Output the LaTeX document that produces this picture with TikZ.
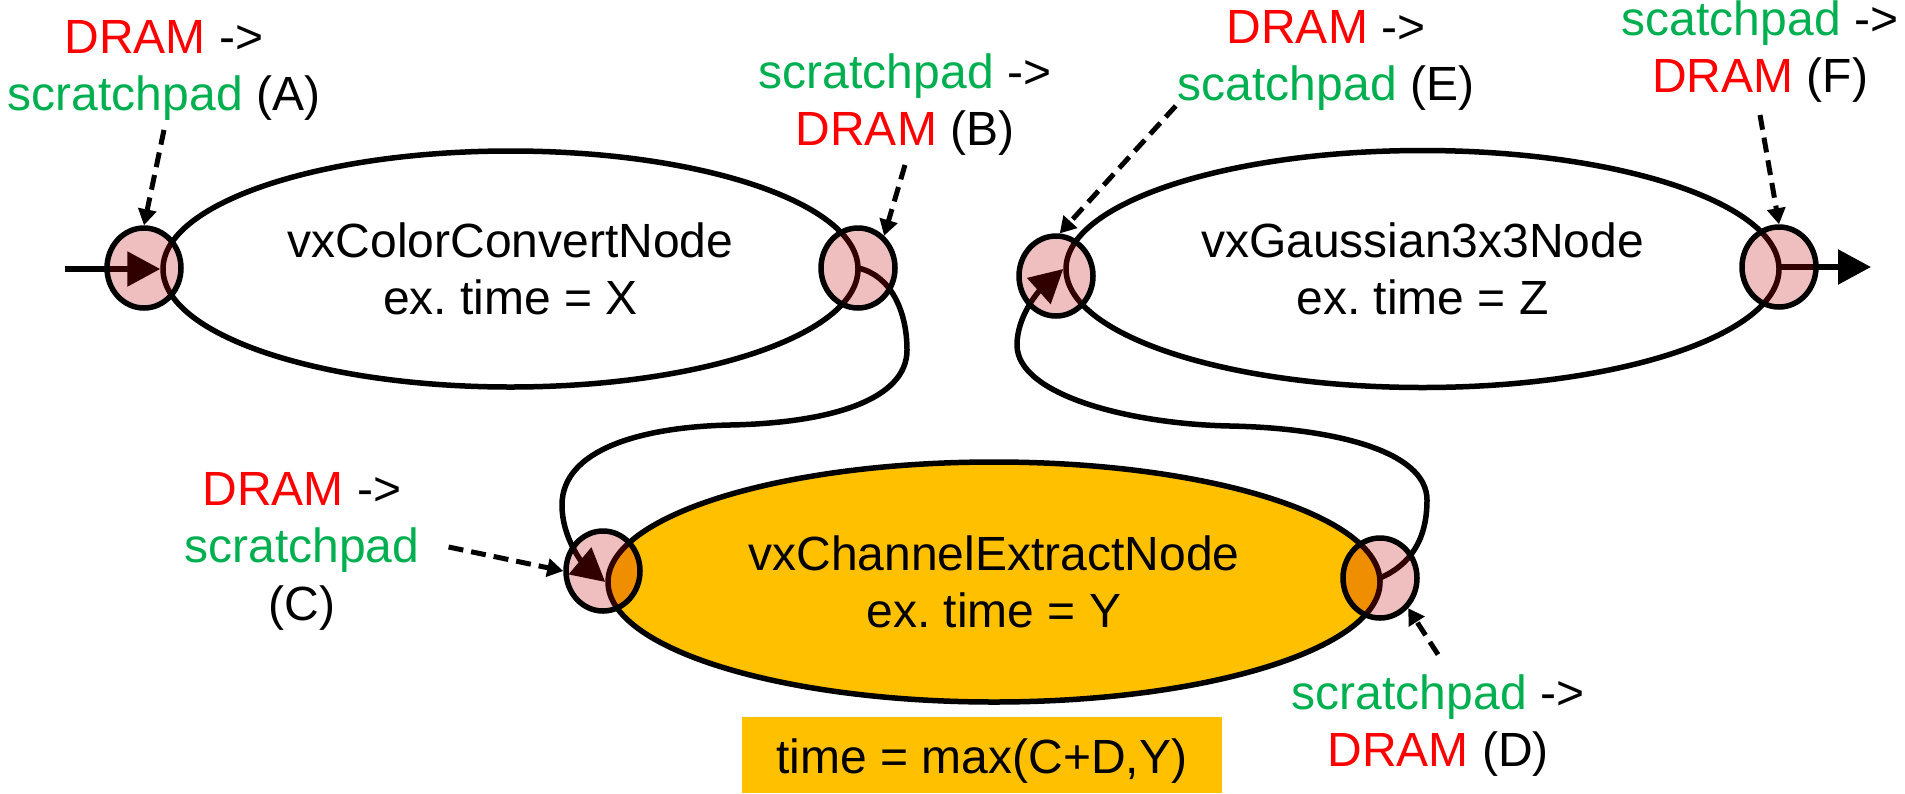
\documentclass[tikz,border=0pt]{standalone}
\usepackage{fontspec}
\setmainfont{Liberation Sans}
\usetikzlibrary{shapes.geometric,arrows.meta}
\definecolor{dramred}{HTML}{FF0000}
\definecolor{padgreen}{HTML}{00B050}
\definecolor{gold}{HTML}{FFC000}
\definecolor{portred}{HTML}{C00000}
\newcommand\lst{\rule[-17.25pt]{0pt}{57.5pt}}
\newcommand\est{\rule[-12pt]{0pt}{57.5pt}}
\newcommand\dram{\textcolor{dramred}{DRAM}}
\newcommand\spad[1]{\textcolor{padgreen}{#1}}
\pgfdeclarelayer{bg}\pgfdeclarelayer{mid}\pgfsetlayers{bg,mid,main}
\frenchspacing
\begin{document}
\begin{tikzpicture}[x=1pt,y=-1pt,
  every node/.style={font=\fontsize{48}{57.5}\selectfont},
  kernel/.style={ellipse, draw, line width=5.5pt, inner sep=0pt, align=center},
  port/.style={ellipse, draw, line width=5.5pt, fill=portred, fill opacity=0.25, draw opacity=1, minimum width=74pt, minimum height=80pt, inner sep=0pt},
  lab/.style={align=center, inner sep=2pt},
  flow/.style={line width=5.5pt, -{Triangle[length=33pt,width=34pt]}},
  feed/.style={line width=5pt, dash pattern=on 15pt off 8pt, -{Triangle[length=16pt,width=18pt]}},
]
\useasboundingbox (0,0) rectangle (1905,793);

\begin{pgfonlayer}{bg}
\fill[white] (0,0) rectangle (1905,793);
\node[kernel, fill=white, minimum width=695pt, minimum height=236pt] (n1) at (510.5,269) {\est vxColorConvertNode\\\est ex. time = X};
\node[kernel, fill=white, minimum width=713pt, minimum height=237pt] (n2) at (1422.5,269) {\est vxGaussian3x3Node\\\est ex. time = Z};
\node[kernel, fill=gold, minimum width=772pt, minimum height=240pt] (n3) at (994,582) {\est vxChannelExtractNode\\\est ex. time = Y};
\node[fill=gold, minimum width=480pt, minimum height=76pt, text height=36pt, text depth=0pt, inner sep=0pt] (tb) at (982,755) {time = max(C+D,Y)};
\end{pgfonlayer}

% ports
\node[port] (pA) at (144,268) {};
\node[port] (pB) at (858,268) {};
\node[port] (pC) at (603,571) {};
\node[port] (pD) at (1380,578) {};
\node[port] (pE) at (1056,276) {};
\node[port] (pF) at (1779,267) {};

\coordinate (in) at (65,269);
\coordinate (out) at (1871,267);

\begin{pgfonlayer}{mid}
\draw[flow] (in) -- (n1.west);
\draw[flow] (pB.center) .. controls (890,275) and (907,310) .. (907,350)
  .. controls (907,400) and (830,423) .. (730,425)
  .. controls (640,427) and (562,450) .. (562,505)
  .. controls (562,540) and (585,565) .. (n3.west);
\draw[flow] (pD.center) .. controls (1410,565) and (1427,540) .. (1427,500)
  .. controls (1427,450) and (1330,428) .. (1230,426)
  .. controls (1130,424) and (1017,395) .. (1017,345)
  .. controls (1017,315) and (1040,290) .. (n2.west);
\draw[flow] (pF.center) -- (out);
\end{pgfonlayer}

% labels
\node[lab] (lA) at (164,70.25) {\lst\dram{} ->\\\lst\spad{scratchpad} (A)};
\node[lab] (lB) at (905,105.25) {\lst\spad{scratchpad} ->\\\lst\dram{} (B)};
\node[lab] (lE) at (1326,60.25) {\lst\dram{} ->\\\lst\spad{scatchpad} (E)};
\node[lab] (lF) at (1760,52.25) {\lst\spad{scatchpad} ->\\\lst\dram{} (F)};
\node[lab] (lC) at (302,551) {\lst\dram{} ->\\\lst\spad{scratchpad}\\\lst(C)};
\node[lab] (lD) at (1438,726.25) {\lst\spad{scratchpad} ->\\\lst\dram{} (D)};

\draw[feed] (lA.south) -- (pA.north);
\draw[feed] (lB.south) -- (pB.51);
\draw[feed] ([yshift=14pt]lE.south west) -- (pE.85);
\draw[feed] ([yshift=-3pt]lF.south) -- (pF.north);
\draw[feed] ([xshift=27pt,yshift=4pt]lC.east) -- (pC.180);
\draw[feed] ([yshift=12pt]lD.north) -- (pD.-47);
\end{tikzpicture}
\end{document}
